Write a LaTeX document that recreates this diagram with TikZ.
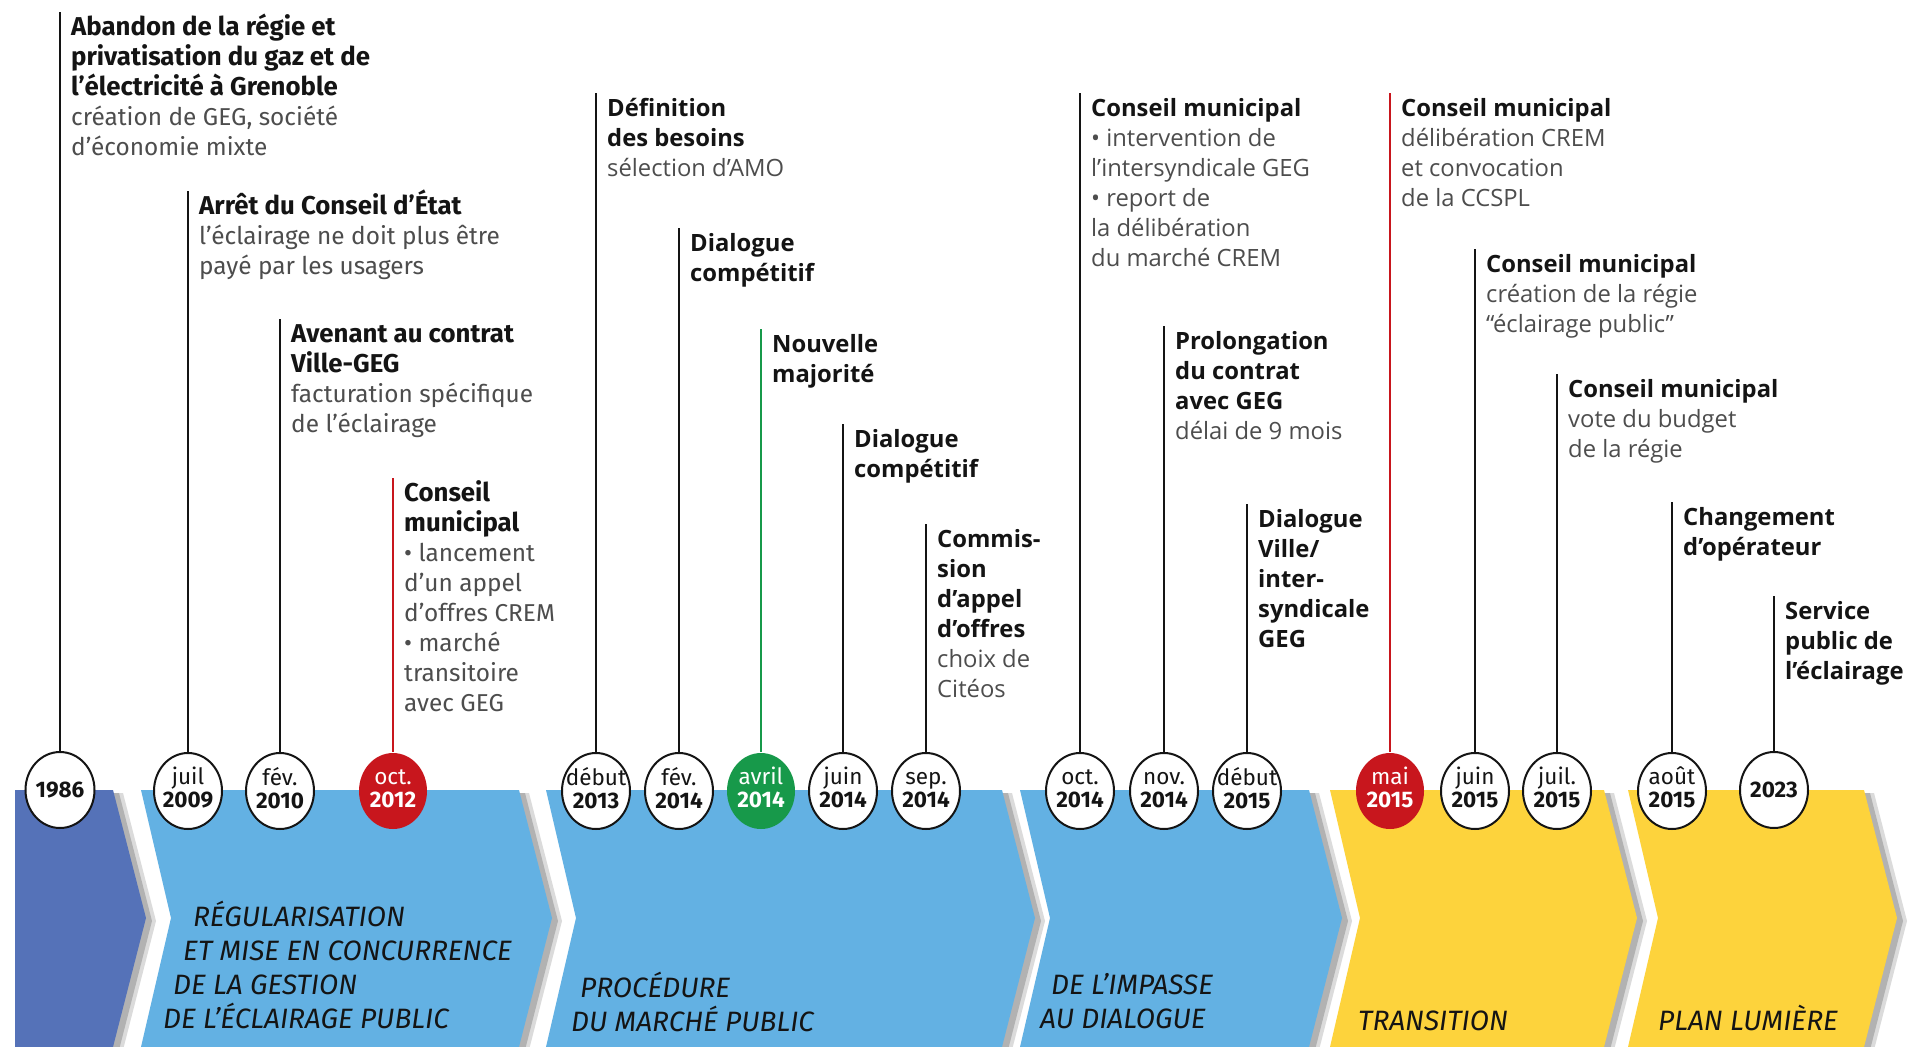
\documentclass[tikz,border=0pt]{standalone}
\usepackage{fontspec}
\setmainfont{Fira Sans}
\newfontfamily\osans{Open Sans}
\usetikzlibrary{shapes.geometric}
\definecolor{dblue}{HTML}{5572B8}
\definecolor{lblue}{HTML}{63B1E3}
\definecolor{yel}{HTML}{FDD33C}
\definecolor{rd}{HTML}{C8161D}
\definecolor{gr}{HTML}{17994A}
\definecolor{desc}{HTML}{4D4D4D}
\definecolor{ink}{HTML}{141414}
\newcommand\Bt[1]{{\bfseries\color{ink}#1}}
\newcommand\Dt[1]{{\color{desc}#1}}
\newcommand\Df[1]{{\fontsize{24.4}{30}\selectfont\color{desc}#1}}
\newcommand\dt[2]{\makebox[0pt]{\begin{tabular}{@{}c@{}}#1\\\textbf{#2}\end{tabular}}}
\begin{document}
\begin{tikzpicture}[x=1pt,y=-1pt,
  stem/.style={line width=2.2pt, draw=ink},
  stemred/.style={line width=2pt, draw=rd},
  stemgreen/.style={line width=2pt, draw=gr},
  datebox/.style={ellipse, draw=ink, line width=2pt, fill=white, text=ink,
     minimum width=68pt, minimum height=76pt, inner sep=0pt,
     font=\fontsize{22.5}{23}\selectfont},
  datered/.style={datebox, draw=none, fill=rd, text=white},
  dategreen/.style={datebox, draw=none, fill=gr, text=white},
  evF/.style={anchor=base west, inner sep=0pt, font=\fontsize{25.8}{30}\selectfont},
  evO/.style={anchor=base west, inner sep=0pt, font=\osans\fontsize{23.8}{30}\selectfont},
  phase/.style={anchor=base west, inner sep=0pt, text=ink, font=\itshape\fontsize{28}{34}\selectfont},
  shadA/.style={fill=black!14},
  shadB/.style={fill=black!30}
]
\useasboundingbox (0,0) rectangle (1912,1047);
\fill[white] (0,0) rectangle (1912,1047);

% ---------------- chevrons ----------------
\begin{scope}
\clip (0,0) rectangle (1912,1047);
\foreach \s/\o in {shadA/10, shadB/6}{
  \begin{scope}[shift={(\o,3)}]
  \fill[\s] (15,790) -- (113,790) -- (146,918) -- (113,1047) -- (15,1047) -- cycle;
  \fill[\s] (141,790) -- (519,790) -- (552,918) -- (519,1047) -- (141,1047) -- (171,918) -- cycle;
  \fill[\s] (546,790) -- (1002,790) -- (1035,918) -- (1002,1047) -- (546,1047) -- (576,918) -- cycle;
  \fill[\s] (1020,790) -- (1309,790) -- (1342,918) -- (1309,1047) -- (1020,1047) -- (1050,918) -- cycle;
  \fill[\s] (1330,790) -- (1604,790) -- (1637,918) -- (1604,1047) -- (1330,1047) -- (1360,918) -- cycle;
  \fill[\s] (1628,790) -- (1864,790) -- (1897,918) -- (1864,1047) -- (1628,1047) -- (1658,918) -- cycle;
  \end{scope}
}
\fill[dblue] (15,790) -- (113,790) -- (146,918) -- (113,1047) -- (15,1047) -- cycle;
\fill[lblue] (141,790) -- (519,790) -- (552,918) -- (519,1047) -- (141,1047) -- (171,918) -- cycle;
\fill[lblue] (546,790) -- (1002,790) -- (1035,918) -- (1002,1047) -- (546,1047) -- (576,918) -- cycle;
\fill[lblue] (1020,790) -- (1309,790) -- (1342,918) -- (1309,1047) -- (1020,1047) -- (1050,918) -- cycle;
\fill[yel] (1330,790) -- (1604,790) -- (1637,918) -- (1604,1047) -- (1330,1047) -- (1360,918) -- cycle;
\fill[yel] (1628,790) -- (1864,790) -- (1897,918) -- (1864,1047) -- (1628,1047) -- (1658,918) -- cycle;
\end{scope}

% ---------------- phase labels ----------------
\node[phase] (p1a) at (193,926) {RÉGULARISATION};
\node[phase] (p1b) at (183,960) {ET MISE EN CONCURRENCE};
\node[phase] (p1c) at (173,994) {DE LA GESTION};
\node[phase] (p1d) at (163,1028) {DE L’ÉCLAIRAGE PUBLIC};
\node[phase] (p2a) at (580,997) {PROCÉDURE};
\node[phase] (p2b) at (571,1031) {DU MARCHÉ PUBLIC};
\node[phase] (p3a) at (1051,994) {DE L’IMPASSE};
\node[phase] (p3b) at (1040,1028) {AU DIALOGUE};
\node[phase] (p4) at (1358,1030) {TRANSITION};
\node[phase] (p5) at (1658,1030) {PLAN LUMIÈRE};

% ---------------- dates ----------------
\node[datebox] (d1986) at (60,790) {\textbf{1986}};
\node[datebox] (d2009) at (188,791) {\dt{juil}{2009}};
\node[datebox] (d2010) at (280,791) {\dt{fév.}{2010}};
\node[datered] (d2012) at (393,791) {\dt{oct.}{2012}};
\node[datebox] (d2013) at (596,791) {\dt{début}{2013}};
\node[datebox] (d2014a) at (679,791) {\dt{fév.}{2014}};
\node[dategreen] (d2014b) at (761,791) {\dt{avril}{2014}};
\node[datebox] (d2014c) at (843,791) {\dt{juin}{2014}};
\node[datebox] (d2014d) at (926,791) {\dt{sep.}{2014}};
\node[datebox] (d2014e) at (1080,791) {\dt{oct.}{2014}};
\node[datebox] (d2014f) at (1164,791) {\dt{nov.}{2014}};
\node[datebox] (d2015a) at (1247,791) {\dt{début}{2015}};
\node[datered] (d2015b) at (1390,791) {\dt{mai}{2015}};
\node[datebox] (d2015c) at (1475,791) {\dt{juin}{2015}};
\node[datebox] (d2015d) at (1557,791) {\dt{juil.}{2015}};
\node[datebox] (d2015e) at (1672,791) {\dt{août}{2015}};
\node[datebox] (d2023) at (1774,790) {\textbf{2023}};

% ---------------- stem tops ----------------
\coordinate (t1986) at (60,12);
\coordinate (t2009) at (188,191);
\coordinate (t2010) at (280,319);
\coordinate (t2012) at (393,478);
\coordinate (t2013) at (596,93);
\coordinate (t2014a) at (679,228);
\coordinate (t2014b) at (761,329);
\coordinate (t2014c) at (843,424);
\coordinate (t2014d) at (926,524);
\coordinate (t2014e) at (1080,93);
\coordinate (t2014f) at (1164,326);
\coordinate (t2015a) at (1247,504);
\coordinate (t2015b) at (1390,93);
\coordinate (t2015c) at (1475,249);
\coordinate (t2015d) at (1557,374);
\coordinate (t2015e) at (1672,502);
\coordinate (t2023) at (1774,596);

\draw[stem] (d1986.north) -- (t1986);
\draw[stem] (d2009.north) -- (t2009);
\draw[stem] (d2010.north) -- (t2010);
\draw[stemred] (d2012.north) -- (t2012);
\draw[stem] (d2013.north) -- (t2013);
\draw[stem] (d2014a.north) -- (t2014a);
\draw[stemgreen] (d2014b.north) -- (t2014b);
\draw[stem] (d2014c.north) -- (t2014c);
\draw[stem] (d2014d.north) -- (t2014d);
\draw[stem] (d2014e.north) -- (t2014e);
\draw[stem] (d2014f.north) -- (t2014f);
\draw[stem] (d2015a.north) -- (t2015a);
\draw[stemred] (d2015b.north) -- (t2015b);
\draw[stem] (d2015c.north) -- (t2015c);
\draw[stem] (d2015d.north) -- (t2015d);
\draw[stem] (d2015e.north) -- (t2015e);
\draw[stem] (d2023.north) -- (t2023);

% ---------------- events ----------------
\node[evF] (e1986) at (71,35) {\begin{tabular}[t]{@{}l@{}}\Bt{Abandon de la régie et}\\\Bt{privatisation du gaz et de}\\\Bt{l’électricité à Grenoble}\\\Df{création de GEG, société}\\\Df{d’économie mixte}\end{tabular}};
\node[evF] (e2009) at (199,214) {\begin{tabular}[t]{@{}l@{}}\Bt{Arrêt du Conseil d’État}\\\Df{l’éclairage ne doit plus être}\\\Df{payé par les usagers}\end{tabular}};
\node[evF] (e2010) at (291,342) {\begin{tabular}[t]{@{}l@{}}\Bt{Avenant au contrat}\\\Bt{Ville-GEG}\\\Df{facturation spécifique}\\\Df{de l’éclairage}\end{tabular}};
\node[evF] (e2012) at (404,501) {\begin{tabular}[t]{@{}l@{}}\Bt{Conseil}\\\Bt{municipal}\\\Df{• lancement}\\\Df{d’un appel}\\\Df{d’offres CREM}\\\Df{• marché}\\\Df{transitoire}\\\Df{avec GEG}\end{tabular}};
\node[evO] (e2013) at (607,116) {\begin{tabular}[t]{@{}l@{}}\Bt{Définition}\\\Bt{des besoins}\\\Dt{sélection d’AMO}\end{tabular}};
\node[evO] (e2014a) at (690,251) {\begin{tabular}[t]{@{}l@{}}\Bt{Dialogue}\\\Bt{compétitif}\end{tabular}};
\node[evO] (e2014b) at (772,352) {\begin{tabular}[t]{@{}l@{}}\Bt{Nouvelle}\\\Bt{majorité}\end{tabular}};
\node[evO] (e2014c) at (854,447) {\begin{tabular}[t]{@{}l@{}}\Bt{Dialogue}\\\Bt{compétitif}\end{tabular}};
\node[evO] (e2014d) at (937,547) {\begin{tabular}[t]{@{}l@{}}\Bt{Commis-}\\\Bt{sion}\\\Bt{d’appel}\\\Bt{d’offres}\\\Dt{choix de}\\\Dt{Citéos}\end{tabular}};
\node[evO] (e2014e) at (1091,116) {\begin{tabular}[t]{@{}l@{}}\Bt{Conseil municipal}\\\Dt{• intervention de}\\\Dt{l’intersyndicale GEG}\\\Dt{• report de}\\\Dt{la délibération}\\\Dt{du marché CREM}\end{tabular}};
\node[evO] (e2014f) at (1175,349) {\begin{tabular}[t]{@{}l@{}}\Bt{Prolongation}\\\Bt{du contrat}\\\Bt{avec GEG}\\\Dt{délai de 9 mois}\end{tabular}};
\node[evO] (e2015a) at (1258,527) {\begin{tabular}[t]{@{}l@{}}\Bt{Dialogue}\\\Bt{Ville/}\\\Bt{inter-}\\\Bt{syndicale}\\\Bt{GEG}\end{tabular}};
\node[evO] (e2015b) at (1401,116) {\begin{tabular}[t]{@{}l@{}}\Bt{Conseil municipal}\\\Dt{délibération CREM}\\\Dt{et convocation}\\\Dt{de la CCSPL}\end{tabular}};
\node[evO] (e2015c) at (1486,272) {\begin{tabular}[t]{@{}l@{}}\Bt{Conseil municipal}\\\Dt{création de la régie}\\\Dt{“éclairage public”}\end{tabular}};
\node[evO] (e2015d) at (1568,397) {\begin{tabular}[t]{@{}l@{}}\Bt{Conseil municipal}\\\Dt{vote du budget}\\\Dt{de la régie}\end{tabular}};
\node[evO] (e2015e) at (1683,525) {\begin{tabular}[t]{@{}l@{}}\Bt{Changement}\\\Bt{d’opérateur}\end{tabular}};
\node[evO] (e2023) at (1785,619) {\begin{tabular}[t]{@{}l@{}}\Bt{Service}\\\Bt{public de}\\\Bt{l’éclairage}\end{tabular}};
\end{tikzpicture}
\end{document}
